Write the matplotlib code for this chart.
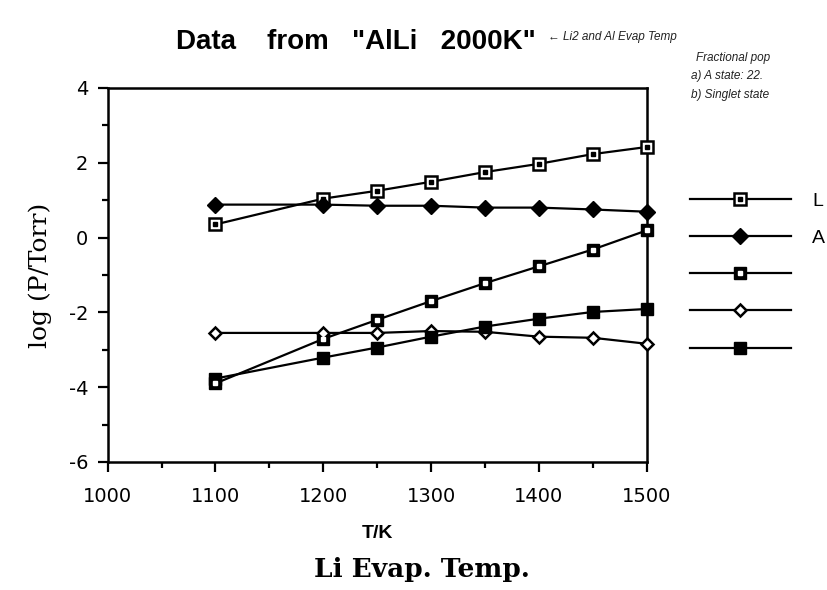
import matplotlib
matplotlib.use("Agg")
import matplotlib.pyplot as plt
from matplotlib.legend_handler import HandlerTuple

plt.rcParams["axes.unicode_minus"] = False

# ---- data ----
temps = [1100, 1200, 1250, 1300, 1350, 1400, 1450, 1500]
li_open_sq = [0.35, 1.04, 1.25, 1.49, 1.75, 1.97, 2.23, 2.42]
al_diamond = [0.88, 0.88, 0.85, 0.85, 0.80, 0.80, 0.75, 0.69]
dot_sq = [-3.90, -2.71, -2.20, -1.70, -1.22, -0.77, -0.32, 0.19]
open_diamond = [-2.55, -2.55, -2.55, -2.50, -2.52, -2.65, -2.68, -2.84]
filled_sq = [-3.77, -3.21, -2.94, -2.65, -2.38, -2.17, -1.99, -1.91]
legend_labels = ["L", "A", "", "", ""]
x_ticks = [1000, 1100, 1200, 1300, 1400, 1500]
y_ticks = [-6, -4, -2, 0, 2, 4]

sans = ["Liberation Sans", "DejaVu Sans"]
tick_font = ["DejaVu Sans"]
serif = ["DejaVu Serif"]

fig = plt.figure(figsize=(8.28, 5.90), dpi=100)
ax = fig.add_axes([0.130, 0.217, 0.651, 0.634])

lw = 1.6
ms = 8

h = []
# series 1: open square with centre dot
a1, = ax.plot(temps, li_open_sq, color="black", lw=lw, marker="s", ms=ms,
              mfc="white", mec="black", mew=1.8, zorder=3, clip_on=False)
a1d, = ax.plot(temps, li_open_sq, ls="none", marker="s", ms=2.2, mfc="black",
               mec="black", zorder=4, clip_on=False)
h.append((a1, a1d))
# series 2: filled diamond
a2, = ax.plot(temps, al_diamond, color="black", lw=lw, marker="D", ms=8,
              mfc="black", mec="black", zorder=3, clip_on=False)
h.append(a2)
# series 3: heavy square with white dot
a3, = ax.plot(temps, dot_sq, color="black", lw=lw, marker="s", ms=ms,
              mfc="black", mec="black", zorder=3, clip_on=False)
a3d, = ax.plot(temps, dot_sq, ls="none", marker="s", ms=2.2, mfc="white",
               mec="white", zorder=4, clip_on=False)
h.append((a3, a3d))
# series 4: open diamond
a4, = ax.plot(temps, open_diamond, color="black", lw=lw, marker="D", ms=6.5,
              mfc="white", mec="black", mew=1.8, zorder=3, clip_on=False)
h.append(a4)
# series 5: filled square
a5, = ax.plot(temps, filled_sq, color="black", lw=lw, marker="s", ms=ms,
              mfc="black", mec="black", zorder=3, clip_on=False)
h.append(a5)

ax.set_xlim(1000, 1500)
ax.set_ylim(-6, 4)
ax.set_xticks(x_ticks)
ax.set_yticks(y_ticks)
ax.set_xticks(range(1050, 1500, 100), minor=True)
ax.set_yticks([-5, -3, -1, 1, 3], minor=True)
ax.tick_params(which="major", direction="out", length=7, width=1.6,
               labelsize=14)
ax.tick_params(axis="x", which="major", pad=11)
ax.tick_params(axis="y", which="major", pad=7)
ax.tick_params(which="minor", direction="out", length=4, width=1.6)
for lab in ax.get_xticklabels() + ax.get_yticklabels():
    lab.set_family(tick_font)
for s in ax.spines.values():
    s.set_linewidth(1.8)

ax.set_xlabel("T/K", fontsize=14, fontweight="bold", family=sans, labelpad=14)
ax.set_ylabel("log (P/Torr)", fontsize=18, family=serif, labelpad=12)

leg = ax.legend(h, legend_labels, handler_map={tuple: HandlerTuple(ndivide=1, pad=0)},
                loc="upper left", frameon=False,
                handlelength=5.2, handletextpad=1.1, labelspacing=1.0,
                prop={"family": sans, "size": 14})
leg.set_bbox_to_anchor((672 / 828, 1 - 175 / 590), transform=fig.transFigure)

fig.text(0.43, 1 - 42 / 590, 'Data    from   "AlLi   2000K"', ha="center", va="center",
         fontsize=20, fontweight="bold", family=sans)
fig.text(0.51, 1 - 569 / 590, "Li Evap. Temp.", ha="center", va="center",
         fontsize=19, fontweight="bold", family=serif)

note = dict(fontsize=8.5, style="italic", color="#222222", family=sans)
fig.text(0.662, 1 - 37 / 590, "\u2190 Li2 and Al Evap Temp", ha="left", va="center", **note)
fig.text(0.84, 1 - 58 / 590, "Fractional pop", ha="left", va="center", **note)
fig.text(0.834, 1 - 76 / 590, "a) A state: 22.", ha="left", va="center", **note)
fig.text(0.834, 1 - 95 / 590, "b) Singlet state", ha="left", va="center", **note)

fig.savefig("out.png", dpi=100)
